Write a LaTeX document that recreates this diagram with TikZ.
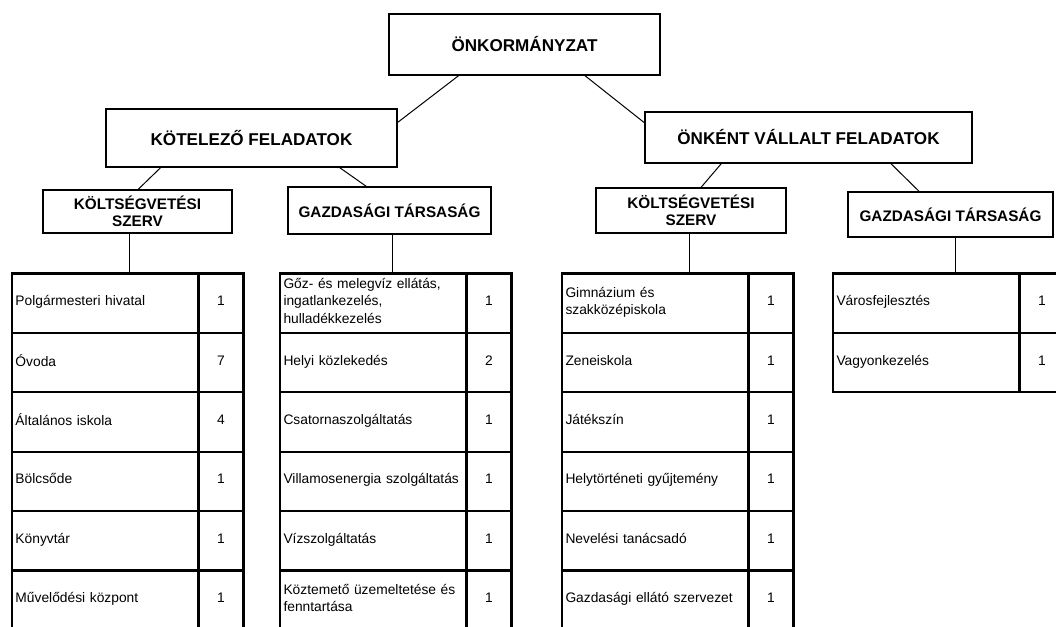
\documentclass[tikz,border=0pt]{standalone}
\usepackage{fontspec}
\setmainfont{Liberation Sans}
\usepackage{xcolor}
\usepackage{tikz}
\usetikzlibrary{calc}
\definecolor{ink}{HTML}{000000}
\newcommand{\cellstrut}{\rule[-5pt]{0pt}{15pt}}
\tikzset{
  head/.style={draw=ink, line width=1.2pt, outer sep=0pt, align=center, inner sep=0pt,
    font=\bfseries\fontsize{17.1}{20}\selectfont},
  sub/.style={draw=ink, line width=1.2pt, outer sep=0pt, align=center, inner sep=0pt,
    font=\bfseries\fontsize{15.3}{17.2}\selectfont},
  link/.style={draw=ink, line width=1pt},
  cell/.style={draw=ink, line width=2.2pt, outer sep=0pt, anchor=north west,
    minimum width=186.5pt, minimum height=59.4pt, text width=179.5pt, inner xsep=3.5pt,
    inner ysep=0pt, align=left, font=\fontsize{13.8}{17.4}\selectfont,
    execute at begin node=\cellstrut, execute at end node=\cellstrut},
  num/.style={draw=ink, line width=2.2pt, outer sep=0pt, anchor=north west,
    minimum width=45pt, minimum height=59.4pt, inner sep=0pt,
    font=\fontsize{13.8}{17.4}\selectfont, execute at begin node=\cellstrut},
}
\begin{document}
\begin{tikzpicture}[x=1pt,y=-1pt]
  \useasboundingbox (0,0) rectangle (1056,626);
  \clip (0,0) rectangle (1056,626);
  % boxes
  \node[head, minimum width=271pt, minimum height=61pt] (onk) at (524.5,44.5) {ÖNKORMÁNYZAT};
  \node[head, minimum width=291pt, minimum height=58pt] (kot) at (251.5,138) {KÖTELEZŐ FELADATOK};
  \node[head, minimum width=327pt, minimum height=51pt] (onkent) at (808.5,137.5) {ÖNKÉNT VÁLLALT FELADATOK};
  \node[sub, minimum width=189pt, minimum height=43pt] (kolt1) at (137.5,211.5) {KÖLTSÉGVETÉSI\\SZERV};
  \node[sub, minimum width=203pt, minimum height=47pt] (gazd1) at (389.5,210.5) {GAZDASÁGI TÁRSASÁG};
  \node[sub, minimum width=190pt, minimum height=45pt] (kolt2) at (691,210.5) {KÖLTSÉGVETÉSI\\SZERV};
  \node[sub, minimum width=205pt, minimum height=45pt] (gazd2) at (950.5,214.5) {GAZDASÁGI TÁRSASÁG};

  \draw[link] ($(onk.south west)!0.26!(onk.south east)$) -- ($(kot.north east)!0.24!(kot.south east)$);
  \draw[link] ($(onk.south west)!0.72!(onk.south east)$) -- ($(onkent.north west)!0.22!(onkent.south west)$);
  \draw[link] ($(kot.south west)!0.19!(kot.south east)$) -- (kolt1.north);
  \draw[link] ($(kot.south west)!0.80!(kot.south east)$) -- ($(gazd1.north west)!0.39!(gazd1.north east)$);
  \draw[link] ($(onkent.south west)!0.235!(onkent.south east)$) -- ($(kolt2.north west)!0.55!(kolt2.north east)$);
  \draw[link] ($(onkent.south west)!0.75!(onkent.south east)$) -- ($(gazd2.north west)!0.35!(gazd2.north east)$);

  % table tops
  \coordinate (k1) at (129,273.5);
  \coordinate (g1) at (392,273.5);
  \coordinate (k2) at (689,273.5);
  \coordinate (g2) at (955,273.5);
  \draw[link] (kolt1.south -| k1) -- (k1);
  \draw[link] (gazd1.south -| g1) -- (g1);
  \draw[link] (kolt2.south -| k2) -- (k2);
  \draw[link] (gazd2.south -| g2) -- (g2);

  % kötelező, költségvetési szerv
  \node[cell] (ka1) at (12,273.5) {Polgármesteri hivatal};
  \node[num] (ka1n) at (198.5,273.5) {1};
  \node[cell] (ka2) at (12,332.9) {Óvoda};
  \node[num] (ka2n) at (198.5,332.9) {7};
  \node[cell] (ka3) at (12,392.3) {Általános iskola};
  \node[num] (ka3n) at (198.5,392.3) {4};
  \node[cell] (ka4) at (12,451.7) {Bölcsőde};
  \node[num] (ka4n) at (198.5,451.7) {1};
  \node[cell] (ka5) at (12,511.1) {Könyvtár};
  \node[num] (ka5n) at (198.5,511.1) {1};
  \node[cell] (ka6) at (12,570.5) {Művelődési központ};
  \node[num] (ka6n) at (198.5,570.5) {1};

  % kötelező, gazdasági társaság
  \node[cell] (kg1) at (280,273.5) {Gőz- és melegvíz ellátás,\\ingatlankezelés,\\hulladékkezelés};
  \node[num] (kg1n) at (466.5,273.5) {1};
  \node[cell] (kg2) at (280,332.9) {Helyi közlekedés};
  \node[num] (kg2n) at (466.5,332.9) {2};
  \node[cell] (kg3) at (280,392.3) {Csatornaszolgáltatás};
  \node[num] (kg3n) at (466.5,392.3) {1};
  \node[cell] (kg4) at (280,451.7) {Villamosenergia szolgáltatás};
  \node[num] (kg4n) at (466.5,451.7) {1};
  \node[cell] (kg5) at (280,511.1) {Vízszolgáltatás};
  \node[num] (kg5n) at (466.5,511.1) {1};
  \node[cell] (kg6) at (280,570.5) {Köztemető üzemeltetése és\\fenntartása};
  \node[num] (kg6n) at (466.5,570.5) {1};

  % önként, költségvetési szerv
  \node[cell] (oa1) at (562,273.5) {Gimnázium és\\szakközépiskola};
  \node[num] (oa1n) at (748.5,273.5) {1};
  \node[cell] (oa2) at (562,332.9) {Zeneiskola};
  \node[num] (oa2n) at (748.5,332.9) {1};
  \node[cell] (oa3) at (562,392.3) {Játékszín};
  \node[num] (oa3n) at (748.5,392.3) {1};
  \node[cell] (oa4) at (562,451.7) {Helytörténeti gyűjtemény};
  \node[num] (oa4n) at (748.5,451.7) {1};
  \node[cell] (oa5) at (562,511.1) {Nevelési tanácsadó};
  \node[num] (oa5n) at (748.5,511.1) {1};
  \node[cell] (oa6) at (562,570.5) {Gazdasági ellátó szervezet};
  \node[num] (oa6n) at (748.5,570.5) {1};

  % önként, gazdasági társaság
  \node[cell] (og1) at (833,273.5) {Városfejlesztés};
  \node[num] (og1n) at (1019.5,273.5) {1};
  \node[cell] (og2) at (833,332.9) {Vagyonkezelés};
  \node[num] (og2n) at (1019.5,332.9) {1};
\end{tikzpicture}
\end{document}
